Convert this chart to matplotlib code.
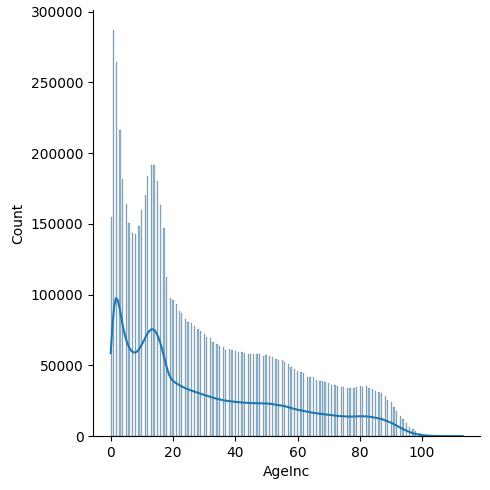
import numpy as np
import matplotlib
matplotlib.use("Agg")
import matplotlib.pyplot as plt
import seaborn as sns

# counts per age (0..113)
ages = np.arange(0, 114)
counts = np.array([
    155200, 287000, 264700, 216400, 182000, 164200, 150700, 143800, 142900, 148600,   # 0-9
    160000, 170600, 184100, 191300, 191300, 180600, 163500, 147200, 112800, 97900,    # 10-19
    96000, 93100, 88400, 87200, 83000, 80800, 80100, 77700, 75400, 74300,             # 20-29
    71900, 70400, 69300, 66800, 65200, 64000, 63300, 61100, 61900, 60600,             # 30-39
    59900, 59200, 59200, 58500, 57800, 57800, 57800, 57800, 57800, 56900,             # 40-49
    57600, 56900, 56200, 54500, 53800, 54000, 52100, 51200, 48800, 47400,             # 50-59
    46000, 45000, 44300, 42000, 41500, 41500, 39800, 39100, 38600, 37900,             # 60-69
    37200, 36300, 35800, 35100, 34800, 34600, 34100, 34100, 34100, 34600,             # 70-79
    35100, 34400, 35100, 34100, 33400, 32000, 31300, 30300, 28000, 25600,             # 80-89
    23900, 20900, 18000, 14200, 12100, 9500, 6600, 4700, 3600, 2400,                  # 90-99
    1700, 950, 600, 350, 200, 120, 70, 40, 25, 15,                                    # 100-109
    10, 6, 4, 3,                                                                      # 110-113
])

n_total = counts.sum()
# Scott's factor for the full (unweighted) sample size
bw = n_total ** -0.2

fig = plt.figure(figsize=(4.9, 4.9), dpi=100)
ax = fig.add_axes([0.19, 0.11, 0.79, 0.87])

sns.histplot(x=ages, weights=counts, bins=280, binrange=(0, 113),
             kde=True, kde_kws={"bw_method": bw}, ax=ax)

ax.set_xlabel("AgeInc")
ax.set_ylabel("Count")
ax.set_xticks([0, 20, 40, 60, 80, 100])
ax.ticklabel_format(axis="y", style="plain")
sns.despine(ax=ax)

fig.savefig("out.png", dpi=100)
